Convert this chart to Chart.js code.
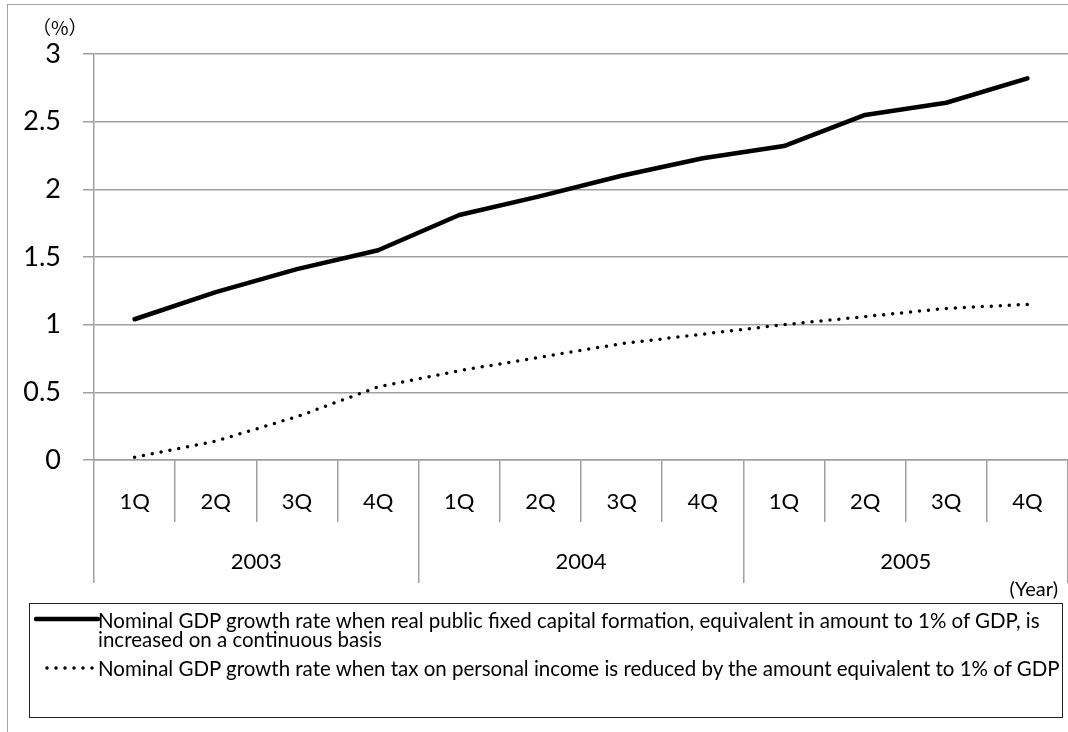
<!DOCTYPE html>
<html lang="en">
<head>
  <meta charset="UTF-8">
  <title>Nominal GDP growth rate</title>
  <script src="https://cdn.jsdelivr.net/npm/chart.js@4"></script>
  <style>
    body { margin: 0; background: #fff; }
    #wrap { position: relative; width: 1068px; height: 732px; overflow: hidden; font-family: Lato, "Noto Sans", sans-serif; }
    #frame { position: absolute; left: 7px; top: 4px; width: 1100px; height: 800px; border-top: 1.5px solid #a0a0a0; border-left: 1.5px solid #a0a0a0; }
    #chartBox { position: absolute; left: 0; top: 0; width: 1068px; height: 732px; }
    .txt { position: absolute; white-space: nowrap; color: #000; }
    #unit { left: 32px; top: 17px; font: 19px "Noto Sans CJK JP"; line-height: 20px; }
    #yearLbl { right: 10px; top: 576px; font-size: 20px; line-height: 24px; }
    #legend { position: absolute; left: 29px; top: 603px; width: 1032px; height: 113px; border: 1.5px solid #222; }
    .leg { font-size: 20.5px; line-height: 24px; left: 98px; }
    .sample { position: absolute; }
  </style>
</head>
<body>
  <div id="wrap">
    <div id="frame"></div>
    <div id="chartBox"><canvas id="gdpChart" width="1068" height="732"></canvas></div>
    <div class="txt" id="unit">（%）</div>
    <div class="txt" id="yearLbl">(Year)</div>
    <div id="legend"></div>
    <svg class="sample" style="left:34px; top:614px" width="66" height="10">
      <line x1="2" y1="5" x2="64" y2="5" stroke="#000" stroke-width="4.5" stroke-linecap="round"/>
    </svg>
    <svg class="sample" style="left:40px; top:663px" width="60" height="10">
      <line x1="7" y1="5" x2="56" y2="5" stroke="#000" stroke-width="3.5" stroke-linecap="round" stroke-dasharray="0 9"/>
    </svg>
    <div class="txt leg" style="top:607.5px">Nominal GDP growth rate when real public fixed capital formation, equivalent in amount to 1% of GDP, is</div>
    <div class="txt leg" style="top:626.5px">increased on a continuous basis</div>
    <div class="txt leg" style="top:656px">Nominal GDP growth rate when tax on personal income is reduced by the amount equivalent to 1% of GDP</div>
  </div>

  <script>
    const quarters = ['1Q', '2Q', '3Q', '4Q', '1Q', '2Q', '3Q', '4Q', '1Q', '2Q', '3Q', '4Q'];
    const years = ['2003', '2004', '2005'];
    const publicInvestment = [1.04, 1.24, 1.41, 1.55, 1.81, 1.95, 2.10, 2.23, 2.32, 2.55, 2.64, 2.82];
    const taxCut = [0.02, 0.14, 0.32, 0.54, 0.66, 0.76, 0.86, 0.93, 1.00, 1.06, 1.12, 1.15];
    const yTicks = [0, 0.5, 1, 1.5, 2, 2.5, 3];

    const gridGray = '#a0a0a0';

    const ctx = document.getElementById('gdpChart').getContext('2d');
    new Chart(ctx, {
      type: 'line',
      data: {
        labels: quarters,
        datasets: [
          {
            label: 'Nominal GDP growth rate when real public fixed capital formation, equivalent in amount to 1% of GDP, is increased on a continuous basis',
            data: publicInvestment,
            borderColor: '#000',
            borderWidth: 4.5,
            pointRadius: 0,
            tension: 0,
            borderCapStyle: 'round',
            borderJoinStyle: 'round'
          },
          {
            label: 'Nominal GDP growth rate when tax on personal income is reduced by the amount equivalent to 1% of GDP',
            data: taxCut,
            borderColor: '#000',
            borderWidth: 3.5,
            borderDash: [0, 9],
            borderCapStyle: 'round',
            pointRadius: 0,
            tension: 0
          }
        ]
      },
      options: {
        responsive: false,
        animation: false,
        layout: { padding: { left: 0, right: 0, top: 54, bottom: 149 } },
        plugins: {
          legend: { display: false },
          tooltip: { enabled: false }
        },
        scales: {
          y: {
            min: 0,
            max: 3,
            afterFit: s => { s.width = 94; },
            afterBuildTicks: s => { s.ticks = yTicks.map(v => ({ value: v })); },
            ticks: {
              color: '#000',
              padding: 22,
              font: { family: 'Lato', size: 27 },
              callback: v => String(v)
            },
            grid: { color: gridGray, lineWidth: 1.5, tickLength: 11 },
            border: { display: true, color: gridGray, width: 1.5 }
          },
          x: {
            weight: 0,
            offset: true,
            afterFit: s => { s.height = 62; },
            ticks: { color: '#000', padding: -33, maxRotation: 0, autoSkip: false, font: { family: 'Lato', size: 22 } },
            grid: { offset: true, drawOnChartArea: false, tickLength: 62, color: gridGray, lineWidth: 1.5 },
            border: { display: true, color: gridGray, width: 1.5 }
          },
          x2: {
            type: 'category',
            labels: years,
            position: 'bottom',
            weight: 1,
            offset: true,
            afterFit: s => { s.height = 61; },
            ticks: { color: '#000', padding: -34, maxRotation: 0, autoSkip: false, font: { family: 'Lato', size: 22 } },
            grid: { offset: true, drawOnChartArea: false, tickLength: 61, color: gridGray, lineWidth: 1.5 },
            border: { display: false }
          }
        }
      }
    });
  </script>
</body>
</html>
